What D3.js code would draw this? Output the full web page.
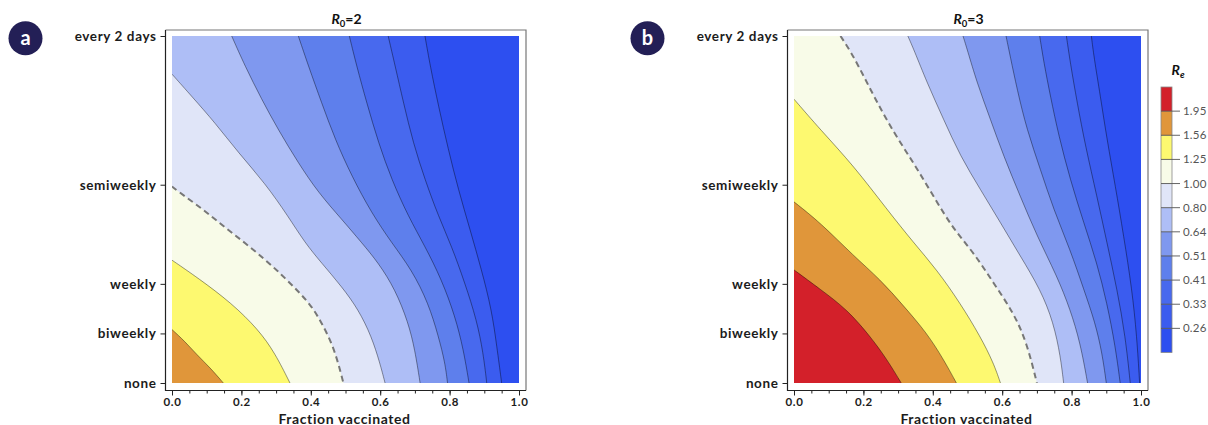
<!DOCTYPE html>
<html>
<head>
<meta charset="utf-8">
<script src="https://cdn.jsdelivr.net/npm/d3@7"></script>
<style>
  body { margin: 0; background: #fff; }
  svg { display: block; }
  text { font-family: Lato, "Open Sans", sans-serif; }
</style>
</head>
<body>
<div id="chart"></div>
<script>
// contour levels of Re, low to high
var levels = [0.26, 0.33, 0.41, 0.51, 0.64, 0.80, 1.00, 1.25, 1.56, 1.95];
var levelLabels = ["0.26", "0.33", "0.41", "0.51", "0.64", "0.80", "1.00", "1.25", "1.56", "1.95"];

// testing frequency (tests per day) and its labels
var freqValues = [0, 1 / 14, 1 / 7, 2 / 7, 1 / 2];
var freqLabels = ["none", "biweekly", "weekly", "semiweekly", "every 2 days"];

var xTicks = [0, 0.2, 0.4, 0.6, 0.8, 1.0];

// contour lines: [fraction vaccinated, tests per day]
// panel a, R0 = 2
var a026 = [[0.729,0.5],[0.744,0.457],[0.768,0.399],[0.796,0.337],[0.825,0.279],[0.859,0.221],[0.892,0.163],[0.921,0.106],[0.936,0.053],[0.950,0]];
var a033 = [[0.623,0.5],[0.643,0.457],[0.667,0.404],[0.695,0.346],[0.729,0.293],[0.768,0.240],[0.806,0.197],[0.844,0.144],[0.878,0.091],[0.897,0.043],[0.907,0]];
var a041 = [[0.511,0.5],[0.532,0.457],[0.561,0.404],[0.595,0.346],[0.633,0.293],[0.681,0.240],[0.729,0.197],[0.777,0.149],[0.816,0.096],[0.840,0.048],[0.856,0]];
var a051 = [[0.364,0.5],[0.393,0.457],[0.431,0.404],[0.470,0.351],[0.518,0.298],[0.575,0.245],[0.633,0.202],[0.691,0.163],[0.739,0.115],[0.768,0.067],[0.787,0.029],[0.794,0]];
var a064 = [[0.172,0.5],[0.210,0.457],[0.258,0.409],[0.306,0.365],[0.364,0.317],[0.422,0.274],[0.489,0.236],[0.547,0.202],[0.595,0.173],[0.643,0.135],[0.681,0.087],[0.700,0.048],[0.715,0]];
var a080 = [[0,0.445],[0.057,0.413],[0.124,0.375],[0.191,0.332],[0.268,0.288],[0.335,0.240],[0.383,0.202],[0.431,0.173],[0.489,0.139],[0.537,0.106],[0.575,0.067],[0.599,0.029],[0.614,0]];
var a100 = [[0,0.283],[0.037,0.269],[0.095,0.248],[0.153,0.224],[0.210,0.202],[0.268,0.178],[0.316,0.156],[0.364,0.132],[0.402,0.111],[0.431,0.087],[0.460,0.058],[0.479,0.029],[0.494,0]];
var a125 = [[0,0.177],[0.076,0.151],[0.172,0.115],[0.249,0.077],[0.297,0.043],[0.340,0]];
var a156 = [[0,0.077],[0.037,0.060],[0.071,0.041],[0.110,0.022],[0.148,0]];

// panel b, R0 = 3
var b026 = [[0.857,0.5],[0.864,0.471],[0.883,0.413],[0.902,0.351],[0.926,0.284],[0.950,0.212],[0.974,0.135],[0.988,0.067],[0.996,0]];
var b033 = [[0.785,0.5],[0.796,0.462],[0.816,0.404],[0.840,0.341],[0.873,0.269],[0.902,0.202],[0.931,0.135],[0.955,0.067],[0.969,0]];
var b041 = [[0.708,0.5],[0.720,0.462],[0.739,0.413],[0.763,0.356],[0.796,0.293],[0.835,0.231],[0.873,0.173],[0.902,0.115],[0.926,0.053],[0.940,0]];
var b051 = [[0.611,0.5],[0.623,0.471],[0.643,0.423],[0.671,0.365],[0.710,0.308],[0.748,0.250],[0.796,0.192],[0.835,0.135],[0.868,0.087],[0.888,0.043],[0.900,0]];
var b064 = [[0.487,0.5],[0.499,0.481],[0.527,0.433],[0.566,0.380],[0.604,0.327],[0.652,0.269],[0.700,0.212],[0.758,0.154],[0.796,0.106],[0.825,0.058],[0.846,0]];
var b080 = [[0.328,0.5],[0.345,0.481],[0.383,0.433],[0.431,0.380],[0.479,0.327],[0.537,0.279],[0.595,0.231],[0.652,0.183],[0.710,0.135],[0.748,0.087],[0.768,0.038],[0.777,0]];
var b100 = [[0.134,0.5],[0.172,0.471],[0.230,0.413],[0.287,0.361],[0.345,0.317],[0.402,0.269],[0.460,0.221],[0.518,0.188],[0.575,0.144],[0.633,0.101],[0.671,0.058],[0.700,0]];
var b125 = [[0,0.409],[0.076,0.365],[0.172,0.313],[0.268,0.250],[0.345,0.202],[0.412,0.163],[0.479,0.115],[0.537,0.067],[0.575,0.029],[0.595,0]];
var b156 = [[0,0.261],[0.076,0.231],[0.172,0.183],[0.249,0.149],[0.316,0.111],[0.383,0.072],[0.431,0.034],[0.468,0]];
var b195 = [[0,0.163],[0.076,0.135],[0.153,0.106],[0.220,0.067],[0.268,0.034],[0.309,0]];

// band colours, below lowest level up to above highest level
var bandColors = ["#2d4ff0", "#3b5cef", "#4869ee", "#5e7fec", "#7f98ef", "#aebef6",
                  "#e0e5f8", "#f8fbe8", "#fdf970", "#e0963a", "#d3202a"];

var panels = [
  { tag: "a", r0: "2", left: 172, lines: [a026, a033, a041, a051, a064, a080, a100, a125, a156] },
  { tag: "b", r0: "3", left: 794, lines: [b026, b033, b041, b051, b064, b080, b100, b125, b156, b195] }
];

var W = 1208, H = 425;
var plotTop = 36, size = 347;

var svg = d3.select("#chart").append("svg")
    .attr("width", W)
    .attr("height", H);

var x = d3.scaleLinear().domain([0, 1]).range([0, size]);
var y = d3.scaleLinear().domain([0, 0.5]).range([size, 0]);

var line = d3.line()
    .x(function(d){ return x(d[0]); })
    .y(function(d){ return y(d[1]); })
    .curve(d3.curveBasis);

panels.forEach(function(p, pi){
  var g = svg.append("g").attr("transform", "translate(" + p.left + "," + plotTop + ")");

  g.append("clipPath").attr("id", "clip" + pi)
    .append("rect").attr("width", size).attr("height", size);

  var plot = g.append("g").attr("clip-path", "url(#clip" + pi + ")");

  plot.append("rect")
      .attr("width", size).attr("height", size)
      .attr("fill", bandColors[0]);

  // fill the high side of every contour, lowest level first
  plot.selectAll("path.band")
      .data(p.lines)
    .enter().append("path")
      .attr("class", "band")
      .attr("fill", function(d, i){ return bandColors[i + 1]; })
      .attr("d", function(d){
        var s = line(d) + "L" + x(0) + "," + y(0);
        if (d[0][1] >= 0.5) s += "L" + x(0) + "," + y(0.5);
        return s + "Z";
      });

  plot.selectAll("path.contour")
      .data(p.lines)
    .enter().append("path")
      .attr("class", "contour")
      .attr("fill", "none")
      .attr("d", line)
      .each(function(d, i){
        var el = d3.select(this);
        if (levels[i] === 1.00) {
          el.attr("stroke", "#777").attr("stroke-width", 2).attr("stroke-dasharray", "6,4");
        } else {
          el.attr("stroke", "#000").attr("stroke-opacity", 0.5).attr("stroke-width", 0.8);
        }
      });

  // frame
  var fx0 = -6.5, fx1 = size + 7, fy0 = -6, fy1 = size + 7.5;
  g.append("path")
      .attr("d", "M" + fx0 + "," + fy0 + "H" + fx1 + "V" + fy1)
      .attr("fill", "none").attr("stroke", "#777").attr("stroke-width", 1.2);
  g.append("path")
      .attr("d", "M" + fx0 + "," + fy0 + "V" + fy1 + "H" + fx1)
      .attr("fill", "none").attr("stroke", "#222").attr("stroke-width", 1.2);

  // y axis
  var ya = g.append("g")
      .attr("transform", "translate(" + fx0 + ",0)")
      .call(d3.axisLeft(y).tickValues(freqValues)
        .tickFormat(function(d, i){ return freqLabels[i]; })
        .tickSize(5).tickPadding(4));
  ya.select(".domain").remove();
  ya.selectAll("line").attr("stroke", "#222");
  ya.selectAll("text")
      .attr("font-family", "Lato, sans-serif")
      .attr("font-size", 13.5).attr("font-weight", 700)
      .attr("letter-spacing", 0.6).attr("fill", "#1c1c1c");

  // x axis, minor then major
  var xm = g.append("g")
      .attr("transform", "translate(0," + fy1 + ")")
      .call(d3.axisBottom(x).tickValues(d3.range(0, 1.001, 0.05)).tickSize(3).tickFormat(""));
  xm.select(".domain").remove();
  xm.selectAll("line").attr("stroke", "#222");

  var xa = g.append("g")
      .attr("transform", "translate(0," + fy1 + ")")
      .call(d3.axisBottom(x).tickValues(xTicks).tickFormat(d3.format(".1f")).tickSize(5).tickPadding(2.5));
  xa.select(".domain").remove();
  xa.selectAll("line").attr("stroke", "#222");
  xa.selectAll("text")
      .attr("font-family", "Lato, sans-serif")
      .attr("font-size", 11.5).attr("font-weight", 700)
      .attr("letter-spacing", 0.6).attr("fill", "#1c1c1c");

  g.append("text")
      .attr("x", size / 2 - 1).attr("y", size + 40.5)
      .attr("text-anchor", "middle")
      .attr("font-size", 14).attr("font-weight", 700)
      .attr("letter-spacing", 0.6).attr("fill", "#1c1c1c")
      .text("Fraction vaccinated");

  // title
  var t = g.append("text")
      .attr("x", size / 2 + 1).attr("y", -12)
      .attr("text-anchor", "middle")
      .attr("font-family", "'Liberation Sans', Arial, sans-serif")
      .attr("font-size", 14).attr("font-weight", 700).attr("fill", "#111");
  t.append("tspan").attr("font-style", "italic").text("R");
  t.append("tspan").attr("font-size", 9.5).attr("dy", 3).text("0");
  t.append("tspan").attr("dy", -3).text("=" + p.r0);

  // panel badge
  var bx = p.left - 146.5;
  svg.append("circle")
      .attr("cx", bx).attr("cy", 38.3).attr("r", 17)
      .attr("fill", "#231f56");
  svg.append("text")
      .attr("x", bx).attr("y", 45)
      .attr("text-anchor", "middle")
      .attr("font-size", 20).attr("font-weight", 700).attr("fill", "#fff")
      .text(p.tag);
});

// colour bar legend
var cbX = 1161, cbW = 11, cbTop = 87, cbBottom = 352.5;
var cb = d3.scaleLinear().domain([0, bandColors.length]).range([cbBottom, cbTop]);
var legend = svg.append("g");

legend.selectAll("rect.band")
    .data(bandColors)
  .enter().append("rect")
    .attr("class", "band")
    .attr("x", cbX).attr("width", cbW)
    .attr("y", function(d, i){ return cb(i + 1); })
    .attr("height", function(d, i){ return cb(i) - cb(i + 1); })
    .attr("fill", function(d){ return d; });

legend.append("rect")
    .attr("x", cbX).attr("y", cbTop).attr("width", cbW).attr("height", cbBottom - cbTop)
    .attr("fill", "none").attr("stroke", "#888").attr("stroke-width", 0.8);

legend.selectAll("line.sep")
    .data(levels)
  .enter().append("line")
    .attr("class", "sep")
    .attr("x1", cbX).attr("x2", cbX + cbW + 8)
    .attr("y1", function(d, i){ return cb(i + 1); })
    .attr("y2", function(d, i){ return cb(i + 1); })
    .attr("stroke", "#555").attr("stroke-width", 0.9);

legend.selectAll("text.lab")
    .data(levelLabels)
  .enter().append("text")
    .attr("class", "lab")
    .attr("x", cbX + cbW + 11)
    .attr("y", function(d, i){ return cb(i + 1) + 4; })
    .attr("font-size", 11.5).attr("letter-spacing", 0.2).attr("fill", "#555")
    .text(function(d){ return d; });

var rt = legend.append("text")
    .attr("x", 1178).attr("y", 75)
    .attr("text-anchor", "middle")
    .attr("font-family", "'Liberation Sans', Arial, sans-serif")
    .attr("font-size", 14).attr("font-weight", 700).attr("font-style", "italic").attr("fill", "#111");
rt.append("tspan").text("R");
rt.append("tspan").attr("font-size", 9.5).attr("dy", 3).text("e");
</script>
</body>
</html>
